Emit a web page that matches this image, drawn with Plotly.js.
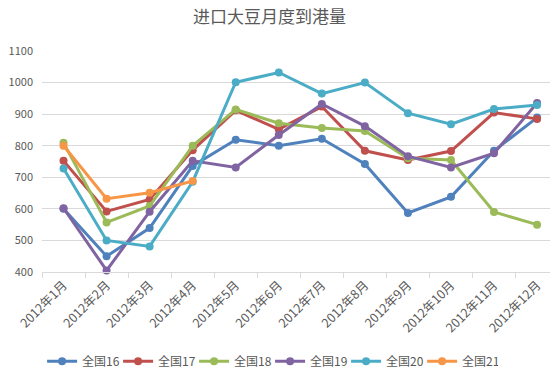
<!DOCTYPE html>
<html>
<head>
<meta charset="utf-8">
<script src="https://cdn.plot.ly/plotly-3.0.1.min.js"></script>
<style>html,body{margin:0;padding:0;background:#fff;}#chart{width:550px;height:377px;}</style>
</head>
<body>
<div id="chart"></div>
<script>
const months = ["2012年1月","2012年2月","2012年3月","2012年4月","2012年5月","2012年6月","2012年7月","2012年8月","2012年9月","2012年10月","2012年11月","2012年12月"];
const seriesNames = ["全国16","全国17","全国18","全国19","全国20","全国21"];
const s16 = [600, 450, 539, 736, 819, 800, 822, 742, 587, 638, 784, 889];
const s17 = [752, 592, 630, 786, 912, 852, 924, 784, 755, 783, 905, 885];
const s18 = [809, 557, 609, 800, 915, 871, 856, 847, 760, 755, 590, 550];
const s19 = [602, 405, 591, 752, 731, 834, 932, 862, 767, 731, 776, 935];
const s20 = [728, 500, 481, 686, 1001, 1032, 965, 1000, 903, 868, 916, 929];
const s21 = [800, 632, 651, 688];
const colors = ["#4F81BD","#C0504D","#9BBB59","#8064A2","#4BACC6","#F79646"];
const allSeries = [s16, s17, s18, s19, s20, s21];

const traces = allSeries.map((vals, i) => ({
  type: "scatter",
  mode: "lines+markers",
  name: seriesNames[i],
  x: months.slice(0, vals.length),
  y: vals,
  line: {color: colors[i], width: 3},
  marker: {color: colors[i], size: 8},
  cliponaxis: false
}));

const layout = {
  width: 550, height: 377,
  margin: {l: 42, r: 0, t: 51, b: 104.5},
  paper_bgcolor: "#ffffff",
  plot_bgcolor: "#ffffff",
  font: {family: "Noto Sans CJK SC, sans-serif", color: "#595959", size: 11},
  title: {text: "进口大豆月度到港量", x: 0.49, xanchor: "center", y: 0.955, yanchor: "middle",
          font: {size: 17, color: "#595959", family: "Noto Sans CJK SC, sans-serif"}},
  xaxis: {
    type: "category",
    categoryorder: "array", categoryarray: months,
    range: [-0.5, 11.3],
    tickangle: -45,
    tickson: "boundaries",
    ticks: "outside", ticklen: 5, tickcolor: "#D9D9D9",
    showline: true, linecolor: "#D9D9D9", linewidth: 1,
    showgrid: false, zeroline: false,
    tickfont: {size: 12.5, color: "#595959"}
  },
  yaxis: {
    range: [400, 1100],
    dtick: 100, tick0: 400,
    showgrid: true, gridcolor: "#D9D9D9", gridwidth: 1,
    zeroline: false, showline: false,
    ticks: "", ticklabelstandoff: 8,
    tickfont: {size: 11, color: "#595959"}
  },
  showlegend: true,
  legend: {
    orientation: "h", x: 0.449, xanchor: "center", y: -0.404, yanchor: "middle",
    font: {size: 12, color: "#595959"},
    itemwidth: 30, tracegroupgap: 0,
    entrywidth: 31, entrywidthmode: "pixels"
  }
};

Plotly.newPlot("chart", traces, layout, {displayModeBar: false, staticPlot: true});
</script>
</body>
</html>
